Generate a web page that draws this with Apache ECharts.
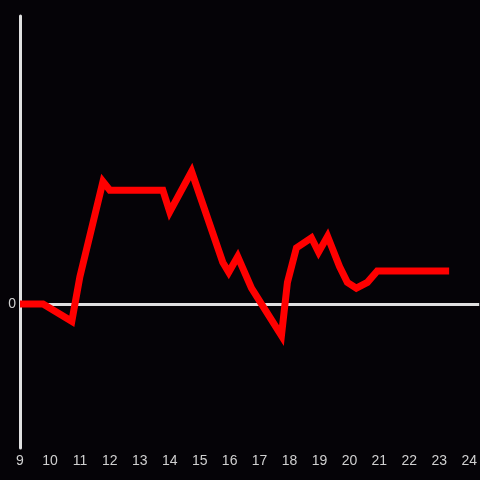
<!DOCTYPE html>
<html>
<head>
<meta charset="utf-8">
<script src="https://cdn.jsdelivr.net/npm/echarts@6/dist/echarts.min.js"></script>
<style>
html,body{margin:0;padding:0;background:#050307;}
#chart{width:480px;height:480px;}
</style>
</head>
<body>
<div id="chart"></div>
<script>
var xValues = [9, 9.77, 10.73, 11.0, 11.77, 12.0, 13.77, 14.0, 14.73, 15.77, 15.97, 16.27, 16.73, 17.73, 17.93, 18.23, 18.73, 18.97, 19.27, 19.67, 19.93, 20.23, 20.6, 20.93, 23.33];
var yValues = [0, 0, -12, 19, 85, 79, 79, 64, 92, 29, 22, 33, 11, -22, 15, 39, 46, 36, 47, 26, 15, 11, 15, 23, 23];
var xTickLabels = ['9','10','11','12','13','14','15','16','17','18','19','20','21','22','23','24'];
var yTickLabels = ['0'];

var points = xValues.map(function (x, i) { return [x, yValues[i]]; });

var chart = echarts.init(document.getElementById('chart'), null, {renderer: 'canvas'});
chart.setOption({
  backgroundColor: '#050307',
  animation: false,
  grid: {left: 20, right: 0, top: 16, bottom: 32},
  xAxis: {
    type: 'value',
    min: 9,
    max: 24 + 10 / 30,
    interval: 1,
    axisLine: {show: false},
    axisTick: {show: false},
    splitLine: {show: false},
    axisLabel: {
      color: '#d0d0d0',
      fontSize: 14,
      margin: 6,
      showMaxLabel: false,
      formatter: function (v) {
        var s = String(Math.round(v));
        return (Math.abs(v - Math.round(v)) < 1e-6 && xTickLabels.indexOf(s) >= 0) ? s : '';
      }
    }
  },
  yAxis: {
    type: 'value',
    min: -100,
    max: 200,
    interval: 100,
    axisLine: {show: true, lineStyle: {color: '#e0e0e0', width: 3}},
    axisTick: {show: false},
    splitLine: {show: false},
    axisLabel: {
      color: '#d0d0d0',
      fontSize: 14,
      margin: 4,
      formatter: function (v) {
        var s = String(v);
        return yTickLabels.indexOf(s) >= 0 ? s : '';
      }
    }
  },
  series: [
    {
      type: 'line',
      data: [],
      z: 1,
      silent: true,
      markLine: {
        z: 1,
        silent: true,
        symbol: ['none', 'none'],
        label: {show: false},
        lineStyle: {color: '#e0e0e0', width: 3, type: 'solid'},
        data: [{yAxis: 0}]
      }
    },
    {
      type: 'line',
      data: points,
      z: 3,
      showSymbol: false,
      symbol: 'none',
      lineStyle: {color: '#ff0000', width: 7, join: 'miter'},
      itemStyle: {color: '#ff0000'}
    }
  ]
});
</script>
</body>
</html>
